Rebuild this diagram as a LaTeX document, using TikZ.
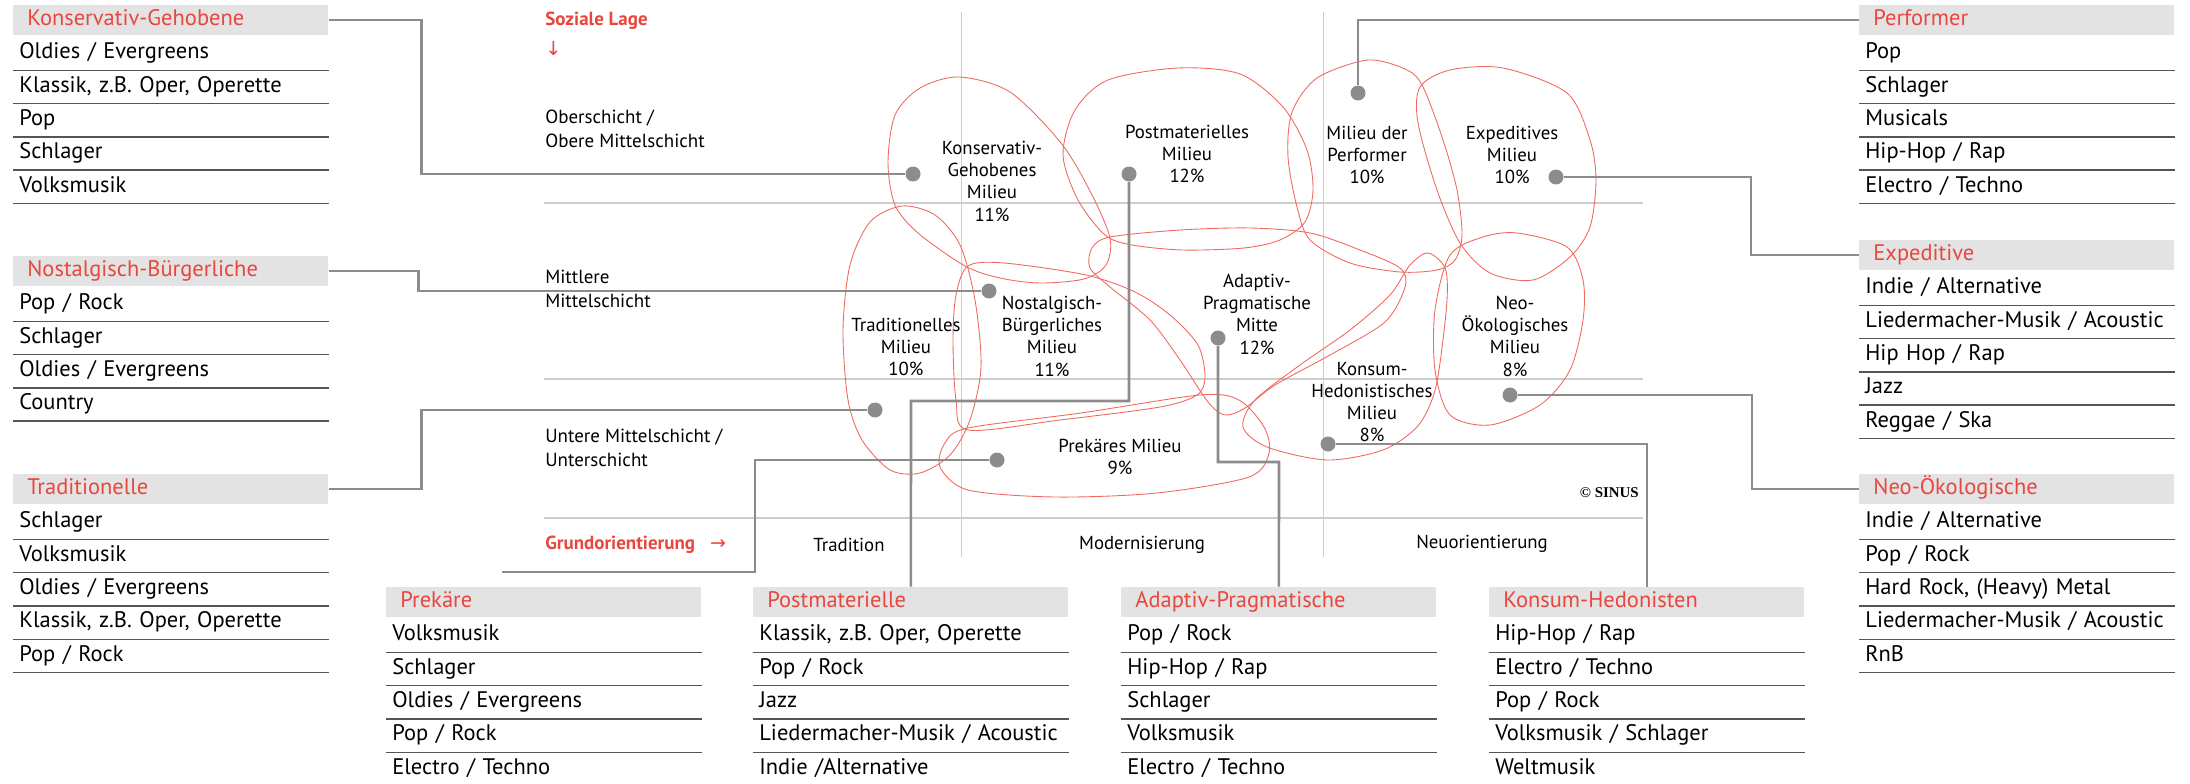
\documentclass[tikz,border=0pt]{standalone}
\usepackage{fontspec}
\setmainfont{PT Sans}
\newfontfamily\symfont{DejaVu Sans}
\newfontfamily\copyfont{Liberation Serif}

\definecolor{sinusred}{RGB}{232,70,62}
\definecolor{headgray}{RGB}{227,227,227}
\definecolor{linkgray}{RGB}{140,140,140}
\definecolor{sepgray}{RGB}{85,85,85}
\definecolor{gridgray}{RGB}{205,205,205}
\definecolor{blobred}{RGB}{240,105,95}

\begin{document}
\begin{tikzpicture}[x=0.02cm, y=-0.02cm,
  head/.style={anchor=west, fill=headgray, text=sinusred, minimum width=6.3cm,
    minimum height=0.6cm, text width=5.74cm, inner xsep=0.28cm, inner ysep=0pt,
    align=left, text height=3.2mm, text depth=1mm, font=\fontsize{12.8}{14}\selectfont},
  genre/.style={anchor=west, minimum width=6.3cm, minimum height=0.666cm,
    text width=6.06cm, inner xsep=0.12cm, inner ysep=0pt, align=left,
    text height=3.2mm, text depth=1mm, font=\fontsize{12.8}{14}\selectfont},
  sepline/.style={draw=sepgray, line width=0.8pt},
  gridline/.style={draw=gridgray, line width=0.8pt},
  blob/.style={draw=blobred, line width=0.5pt},
  link/.style={draw=linkgray, line width=1.5pt},
  milieudot/.style={circle, fill=linkgray, inner sep=0pt, minimum size=0.3cm},
  milieu/.style={align=center, font=\fontsize{10.7}{12.7}\selectfont},
  layer/.style={anchor=west, align=left, inner xsep=0pt, font=\fontsize{10.8}{13.6}\selectfont},
]
\useasboundingbox (0,0) rectangle (2190,784);

% grid of the milieu map
\draw[gridline] (544,203) -- (1643,203);
\draw[gridline] (544,379) -- (1643,379);
\draw[gridline] (544,518) -- (1643,518);
\draw[gridline, line width=0.5pt] (961,12) -- (961,557);
\draw[gridline, line width=0.5pt] (1323,12) -- (1323,557);

% axis texts
\node[layer, text=sinusred, font=\bfseries\fontsize{10.8}{13}\selectfont] (lage) at (545,21) {Soziale Lage};
\node[layer, text=sinusred, font=\symfont\fontsize{11}{12}\selectfont] (lagearrow) at (545,48) {↓};
\node[layer] (ober) at (545,129) {Oberschicht /\\Obere Mittelschicht};
\node[layer] (mitte) at (545,289) {Mittlere\\Mittelschicht};
\node[layer] (unter) at (545,448) {Untere Mittelschicht /\\Unterschicht};
\node[layer, text=sinusred, font=\bfseries\fontsize{10.8}{13}\selectfont] (grund) at (545,545) {Grundorientierung\hspace{0.3cm}{\symfont\mdseries →}};
\node[milieu] (trad) at (849,545) {Tradition};
\node[milieu] (modern) at (1142,545) {Modernisierung};
\node[milieu] (neu) at (1482,544) {Neuorientierung};
\node[anchor=east, font=\copyfont\bfseries\fontsize{8.5}{10}\selectfont] (sinus) at (1645,493) {© SINUS};

% milieu outlines
\draw[blob] plot[smooth cycle] coordinates {(959,77) (1010,92) (1061,143) (1091,193)
  (1110,238) (1106,265) (1084,279) (1040,283) (1000,278) (965,266) (918,233) (895,205)
  (888,163) (895,115) (920,88)};
\draw[blob] plot[smooth cycle] coordinates {(1178,68) (1240,74) (1283,107) (1307,150)
  (1313,190) (1305,222) (1280,240) (1244,248) (1183,250) (1132,245) (1105,235)
  (1078,200) (1063,155) (1075,110) (1108,80)};
\draw[blob] plot[smooth cycle] coordinates {(1368,60) (1407,70) (1423,87) (1443,140)
  (1457,190) (1462,235) (1455,260) (1437,270) (1400,272) (1350,263) (1310,240)
  (1297,207) (1288,157) (1292,112) (1317,78)};
\draw[blob] plot[smooth cycle] coordinates {(1503,68) (1567,93) (1590,140) (1596,180)
  (1590,227) (1570,257) (1533,280) (1490,273) (1460,243) (1437,190) (1418,123)
  (1420,87) (1450,70)};
\draw[blob] plot[smooth cycle] coordinates {(902,206) (935,215) (960,245) (975,300)
  (981,367) (970,420) (950,455) (920,473) (890,470) (862,440) (848,400) (843,330)
  (850,265) (870,222)};
\draw[blob] plot[smooth cycle] coordinates {(968,266) (1004,263) (1086,275) (1135,292)
  (1170,315) (1198,345) (1205,377) (1197,395) (1160,407) (1060,420) (968,430)
  (956,400) (953,340) (956,295)};
\draw[blob] plot[smooth cycle] coordinates {(968,428) (1081,413) (1200,395) (1239,400)
  (1264,427) (1269,453) (1249,477) (1157,493) (1055,497) (968,490) (940,467) (945,443)};
\draw[blob] plot[smooth cycle] coordinates {(1110,237) (1180,230) (1250,228) (1310,233)
  (1360,250) (1400,268) (1405,287) (1385,322) (1330,355) (1275,385) (1245,408)
  (1225,415) (1208,402) (1180,360) (1150,320) (1110,287) (1090,268) (1092,248)};
\draw[blob] plot[smooth cycle] coordinates {(1428,253) (1445,268) (1447,300) (1440,363)
  (1433,397) (1417,427) (1383,450) (1327,460) (1267,447) (1243,427) (1255,400)
  (1300,365) (1350,330) (1390,295) (1410,265)};
\draw[blob] plot[smooth cycle] coordinates {(1450,255) (1483,237) (1517,233) (1567,247)
  (1583,280) (1583,320) (1570,370) (1540,405) (1490,425) (1450,415) (1435,370)
  (1435,310)};

% milieu names
\node[milieu] (kglabel) at (992,181) {Konservativ-\\Gehobenes\\Milieu\\11\%};
\node[milieu] (pmlabel) at (1187,154) {Postmaterielles\\Milieu\\12\%};
\node[milieu] (pflabel) at (1367,155) {Milieu der\\Performer\\10\%};
\node[milieu] (exlabel) at (1512,155) {Expeditives\\Milieu\\10\%};
\node[milieu] (trlabel) at (906,347) {Traditionelles\\Milieu\\10\%};
\node[milieu] (nblabel) at (1052,336) {Nostalgisch-\\Bürgerliches\\Milieu\\11\%};
\node[milieu] (aplabel) at (1257,314) {Adaptiv-\\Pragmatische\\Mitte\\12\%};
\node[milieu] (nolabel) at (1515,336) {Neo-\\Ökologisches\\Milieu\\8\%};
\node[milieu] (khlabel) at (1372,402) {Konsum-\\Hedonistisches\\Milieu\\8\%};
\node[milieu] (pklabel) at (1120,457) {Prekäres Milieu\\9\%};

% dots
\node[milieudot] (kgdot) at (913,174) {};
\node[milieudot] (pmdot) at (1129,174) {};
\node[milieudot] (pfdot) at (1358,93) {};
\node[milieudot] (exdot) at (1556,177) {};
\node[milieudot] (nbdot) at (989,291) {};
\node[milieudot] (trdot) at (875,410) {};
\node[milieudot] (apdot) at (1218,338) {};
\node[milieudot] (nodot) at (1510,395) {};
\node[milieudot] (khdot) at (1328,444) {};
\node[milieudot] (pkdot) at (997,460) {};

% genre lists
\node[head] (kgbox) at (13,20) {Konservativ-Gehobene};
\foreach \g [count=\i] in {Oldies / Evergreens, {Klassik, z.B. Oper, Operette}, Pop, Schlager, Volksmusik} {
  \node[genre] (kg\i) at (13,{20+33.3*\i}) {\g};
  \draw[sepline] (kg\i.south west) -- (kg\i.south east);
}
\node[head] (nbbox) at (13,271) {Nostalgisch-Bürgerliche};
\foreach \g [count=\i] in {Pop / Rock, Schlager, Oldies / Evergreens, Country} {
  \node[genre] (nb\i) at (13,{271+33.3*\i}) {\g};
  \draw[sepline] (nb\i.south west) -- (nb\i.south east);
}
\node[head] (trbox) at (13,489) {Traditionelle};
\foreach \g [count=\i] in {Schlager, Volksmusik, Oldies / Evergreens, {Klassik, z.B. Oper, Operette}, Pop / Rock} {
  \node[genre] (tr\i) at (13,{489+33.3*\i}) {\g};
  \draw[sepline] (tr\i.south west) -- (tr\i.south east);
}
\node[head] (pfbox) at (1859,20) {Performer};
\foreach \g [count=\i] in {Pop, Schlager, Musicals, Hip-Hop / Rap, Electro / Techno} {
  \node[genre] (pf\i) at (1859,{20+33.3*\i}) {\g};
  \draw[sepline] (pf\i.south west) -- (pf\i.south east);
}
\node[head] (exbox) at (1859,255) {Expeditive};
\foreach \g [count=\i] in {Indie / Alternative, Liedermacher-Musik / Acoustic, Hip Hop / Rap, Jazz, Reggae / Ska} {
  \node[genre] (ex\i) at (1859,{255+33.3*\i}) {\g};
  \draw[sepline] (ex\i.south west) -- (ex\i.south east);
}
\node[head] (nobox) at (1859,489) {Neo-Ökologische};
\foreach \g [count=\i] in {Indie / Alternative, Pop / Rock, {Hard Rock, (Heavy) Metal}, Liedermacher-Musik / Acoustic, RnB} {
  \node[genre] (no\i) at (1859,{489+33.3*\i}) {\g};
  \draw[sepline] (no\i.south west) -- (no\i.south east);
}
\node[head] (pkbox) at (386,602) {Prekäre};
\foreach \g [count=\i] in {Volksmusik, Schlager, Oldies / Evergreens, Pop / Rock, Electro / Techno} {
  \node[genre] (pk\i) at (386,{602+33.3*\i}) {\g};
  \draw[sepline] (pk\i.south west) -- (pk\i.south east);
}
\node[head] (pmbox) at (753,602) {Postmaterielle};
\foreach \g [count=\i] in {{Klassik, z.B. Oper, Operette}, Pop / Rock, Jazz, Liedermacher-Musik / Acoustic, Indie /Alternative} {
  \node[genre] (pm\i) at (753,{602+33.3*\i}) {\g};
  \draw[sepline] (pm\i.south west) -- (pm\i.south east);
}
\node[head] (apbox) at (1121,602) {Adaptiv-Pragmatische};
\foreach \g [count=\i] in {Pop / Rock, Hip-Hop / Rap, Schlager, Volksmusik, Electro / Techno} {
  \node[genre] (ap\i) at (1121,{602+33.3*\i}) {\g};
  \draw[sepline] (ap\i.south west) -- (ap\i.south east);
}
\node[head] (khbox) at (1489,602) {Konsum-Hedonisten};
\foreach \g [count=\i] in {Hip-Hop / Rap, Electro / Techno, Pop / Rock, Volksmusik / Schlager, Weltmusik} {
  \node[genre] (kh\i) at (1489,{602+33.3*\i}) {\g};
  \draw[sepline] (kh\i.south west) -- (kh\i.south east);
}

% connectors
\coordinate (pkbend) at (755,572);
\coordinate (pkend) at (502,572);
\coordinate (pmbend) at (911,401);
\coordinate (apbend) at (1279,462);
\coordinate (nobend) at (1752,489);
\coordinate (exbend) at (1751,255);
\draw[link] (kgbox.east) -- ++(93,0) |- (kgdot);
\draw[link] (nbbox.east) -- ++(90,0) |- (nbdot);
\draw[link] (trbox.east) -- ++(93,0) |- (trdot);
\draw[link] (pkdot) -| (pkbend) -- (pkend);
\draw[link] (pmdot) |- (pmbend) -- (pmbox.north);
\draw[link] (apdot) |- (apbend) -- (apbox.north);
\draw[link] (khdot) -| (khbox.north);
\draw[link] (nodot) -| (nobend) -- (nobox.west);
\draw[link] (exdot) -| (exbend) -- (exbox.west);
\draw[link] (pfdot) |- (pfbox.west);
\end{tikzpicture}
\end{document}
